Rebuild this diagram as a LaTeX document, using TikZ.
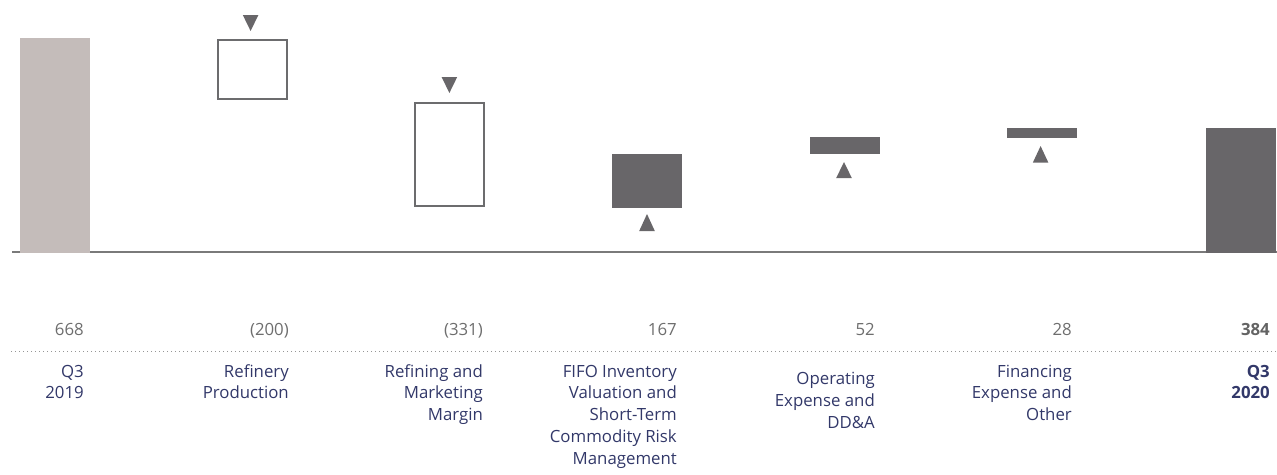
\documentclass[tikz,border=0pt]{standalone}
\usepackage{fontspec}
\setmainfont{Open Sans}
\definecolor{taupe}{RGB}{196,188,186}
\definecolor{darkbar}{RGB}{104,102,105}
\definecolor{outl}{RGB}{108,108,110}
\definecolor{navy}{RGB}{50,56,105}
\definecolor{numgray}{RGB}{110,110,110}
\definecolor{basegray}{RGB}{122,122,122}
\definecolor{dotgray}{RGB}{150,150,150}
\begin{document}
\begin{tikzpicture}[x=1pt,y=-1pt,
  solidbar/.style={fill=darkbar},
  openbar/.style={draw=outl,line width=2pt,fill=white},
  tri/.style={fill=darkbar},
  num/.style={anchor=base east,inner sep=0pt,text=numgray,font=\fontsize{16.8}{21.8}\selectfont},
  lbl/.style={anchor=base east,inner sep=0pt,align=right,text=navy,font=\fontsize{16.8}{21.8}\selectfont}]
\useasboundingbox (0,0) rectangle (1277,474);
% axis line
\draw[basegray,line width=2pt] (12,251.7) -- (1277,251.7);
% bars
\fill[taupe] (20,38) rectangle (90,252.5);
\draw[openbar] (217.7,39.7) rectangle (286.8,99);
\draw[openbar] (415,102.7) rectangle (484,205.7);
\fill[solidbar] (612,154) rectangle (682,207.7);
\fill[solidbar] (810,137) rectangle (880,154);
\fill[solidbar] (1006.5,128) rectangle (1077,137.7);
\fill[solidbar] (1205.7,128) rectangle (1276,252.5);
% triangles
\fill[tri] (242.8,15) -- (258.4,15) -- (250.6,31) -- cycle;
\fill[tri] (441.6,77) -- (457.2,77) -- (449.4,93) -- cycle;
\fill[tri] (639.2,231) -- (654.8,231) -- (647,214) -- cycle;
\fill[tri] (836.2,178) -- (851.8,178) -- (844,162) -- cycle;
\fill[tri] (1032.8,162.7) -- (1048.4,162.7) -- (1040.6,146) -- cycle;
% dotted separator
\draw[dotgray,line width=1.2pt,dash pattern=on 1.2pt off 2.8pt] (11,351.7) -- (1277,351.7);
% values
\node[num] (v1) at (84,335) {668};
\node[num] (v2) at (289,335) {(200)};
\node[num] (v3) at (483,335) {(331)};
\node[num] (v4) at (677,335) {167};
\node[num] (v5) at (875,335) {52};
\node[num] (v6) at (1072,335) {28};
\node[num,font=\fontsize{16.8}{21.8}\selectfont\bfseries,text=numgray!90!black] (v7) at (1270,335) {384};
% labels (anchor = baseline of last line; first line baseline at 377)
\node[lbl] (l1) at (84,398.8) {Q3\\2019};
\node[lbl] (l2) at (289,398.8) {Refinery\\Production};
\node[lbl] (l3) at (483,420.6) {Refining and\\Marketing\\Margin};
\node[lbl] (l4) at (677,464.2) {FIFO Inventory\\Valuation and\\Short-Term\\Commodity Risk\\Management};
\node[lbl] (l5) at (875,428.1) {Operating\\Expense and\\DD\&A};
\node[lbl] (l6) at (1072,420.6) {Financing\\Expense and\\Other};
\node[lbl,font=\fontsize{16.8}{21.8}\selectfont\bfseries] (l7) at (1270,398.8) {Q3\\2020};
\end{tikzpicture}
\end{document}
